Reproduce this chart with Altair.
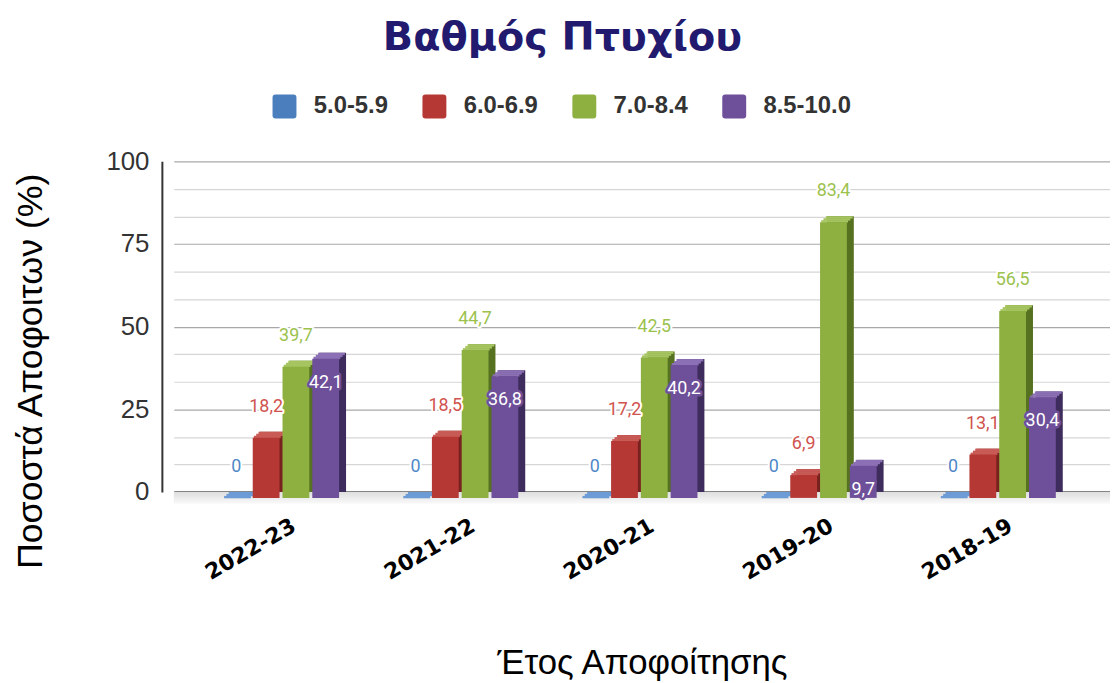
import altair as alt
import pandas as pd

# ---------------- data ----------------
years = ["2022-23", "2021-22", "2020-21", "2019-20", "2018-19"]
series = ["5.0-5.9", "6.0-6.9", "7.0-8.4", "8.5-10.0"]
v_50_59 = [0, 0, 0, 0, 0]
v_60_69 = [18.2, 18.5, 17.2, 6.9, 13.1]
v_70_84 = [39.7, 44.7, 42.5, 83.4, 56.5]
v_85_100 = [42.1, 36.8, 40.2, 9.7, 30.4]

# ---------------- styles ----------------
front_colors = ["#4a7ebd", "#b53835", "#8db040", "#6e4f99"]
side_colors = ["#2e5283", "#78221f", "#56711f", "#3d2c5c"]
top_colors = ["#6c9bd6", "#c95b57", "#a6c560", "#8c70b5"]
label_colors = ["#4f87c8", "#d0534e", "#9cc24e"]
purple = "#6e4f99"

rows = []
for s, vals in zip(series, [v_50_59, v_60_69, v_70_84, v_85_100]):
    for yr, v in zip(years, vals):
        rows.append({"year": yr, "series": s, "value": v,
                     "label": f"{v:g}".replace(".", ",")})
df = pd.DataFrame(rows)

W, H = 943, 333
BAND = 120
DEPTH = 7

x_axis = alt.Axis(
    title="Έτος Αποφοίτησης", labelAngle=330, labelAlign="right", labelBaseline="middle",
    labelFont="DejaVu Sans", labelFontWeight="bold", labelFontSize=22, labelColor="#000000",
    labelPadding=32, labelOffset=13, ticks=False, domainColor="#222222", domainWidth=2,
    grid=False, titleFont="Liberation Sans", titleFontSize=35, titleFontWeight="normal",
    titleColor="#000000", titleY=183, titleBaseline="alphabetic",
)
y_axis = alt.Axis(
    values=[i * 100 / 12 for i in range(13)],
    labelExpr="datum.value % 25 === 0 ? datum.label : ''",
    ticks=False, domainColor="#333333", domainWidth=2, offset=12,
    labelFont="Liberation Sans", labelFontSize=26, labelColor="#333333", labelPadding=13,
    gridColor={"condition": {"test": "datum.value % 25 === 0", "value": "#a8a8a8"}, "value": "#d6d6d6"},
    gridWidth=1.2,
    title="Ποσοστά Αποφοιτων (%)", titleFont="Liberation Sans", titleFontSize=36,
    titleFontWeight="normal", titleColor="#000000", titleX=-132, titleY=211,
    titleBaseline="middle", titleAngle=270,
)

X = alt.X("year:N", sort=years,
          scale=alt.Scale(paddingInner=0.335, paddingOuter=0.28, align=0.475), axis=x_axis)
Y = alt.Y("value:Q", scale=alt.Scale(domain=[0, 100], nice=False), axis=y_axis)


def xo(shift):
    return alt.XOffset("series:N", sort=series,
                       scale=alt.Scale(type="band", domain=series, range=[shift, BAND + shift],
                                       paddingInner=0.1, paddingOuter=0.05))


def col(rng, dom=series, legend=None):
    return alt.Color("series:N", scale=alt.Scale(domain=dom, range=rng), legend=legend)


base = alt.Chart(df)

floor = alt.Chart(pd.DataFrame({"f": [0]})).mark_rect(
    color=alt.LinearGradient(gradient="linear", x1=0, x2=0, y1=0, y2=1,
                             stops=[alt.GradientStop(color="#dedede", offset=0),
                                    alt.GradientStop(color="#fafafa", offset=1)])
).encode(x=alt.value(0), x2=alt.value(W), y=alt.value(H), y2=alt.value(H + 12))

side = base.mark_bar().encode(x=X, xOffset=xo(DEPTH), y=Y, color=col(side_colors))

tops = []
for k in range(3):
    shift = DEPTH * (5 - 2 * k) / 6
    tops.append(
        base.mark_bar(yOffset=2 * k, y2Offset=2 * k + 2.4).encode(
            x=X, xOffset=xo(shift), y=Y, y2=alt.Y2("value:Q"), color=col(top_colors))
    )

rounded_sq = ("M-1,-0.75 Q-1,-1 -0.75,-1 L0.75,-1 Q1,-1 1,-0.75 L1,0.75 Q1,1 0.75,1 "
              "L-0.75,1 Q-1,1 -1,0.75 Z")
legend = alt.Legend(
    orient="none", legendX=99, legendY=-68, direction="horizontal", columns=4, title=None,
    symbolType=rounded_sq, symbolSize=580, symbolStrokeWidth=0, symbolOpacity=1,
    labelFont="Liberation Sans", labelFontSize=24, labelFontWeight="bold",
    labelColor="#333333", labelOffset=17, columnPadding=20, gridAlign="all", padding=0,
)
front = base.mark_bar(yOffset=6, y2Offset=6).encode(
    x=X, xOffset=xo(0), y=Y, color=col(front_colors, legend=legend))

others = base.transform_filter(alt.datum.series != "8.5-10.0")
halo1 = others.mark_text(dy=-25, font="Roboto", fontSize=18, fill="white", stroke="white",
                         strokeWidth=4, strokeJoin="round").encode(
    x=X, xOffset=xo(0), y=Y, text="label:N")
text1 = others.mark_text(dy=-25, font="Roboto", fontSize=18).encode(
    x=X, xOffset=xo(0), y=Y, text="label:N", color=col(label_colors, dom=series[:3]))

purp = base.transform_filter(alt.datum.series == "8.5-10.0")
halo2 = purp.mark_text(dy=30, font="Roboto", fontSize=18, fill=purple, stroke=purple,
                       strokeWidth=5, strokeJoin="round").encode(
    x=X, xOffset=xo(0), y=Y, text="label:N")
text2 = purp.mark_text(dy=30, font="Roboto", fontSize=18, fill="white").encode(
    x=X, xOffset=xo(0), y=Y, text="label:N")

chart = alt.layer(floor, side, *tops, front, halo1, text1, halo2, text2).resolve_scale(
    color="independent", xOffset="independent"
).properties(
    width=W, height=H,
    title=alt.TitleParams("Βαθμός Πτυχίου", font="DejaVu Sans", fontSize=40, fontWeight="bold",
                          color="#221a6e", anchor="middle", frame="group", offset=4, dx=-80,
                          baseline="alphabetic"),
    autosize=alt.AutoSizeParams(type="none"),
    padding={"left": 167, "top": 152, "right": 0, "bottom": 190},
).configure_view(stroke=None)

chart.save("out.html", embed_options={"renderer": "svg", "actions": False})
